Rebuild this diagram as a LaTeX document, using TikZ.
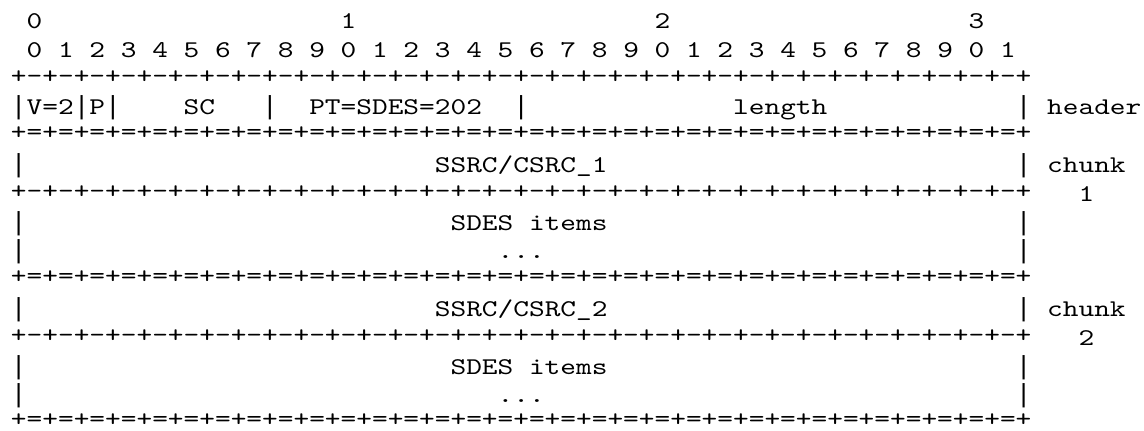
\documentclass[tikz,border=0pt]{standalone}
\usepackage{fontspec}
\newfontfamily\asciifont{lmmono10-regular}[Extension=.otf,FakeStretch=1.246]
\newfontfamily\barfont{Liberation Mono}
\newcommand{\minusrule}{+-+-+-+-+-+-+-+-+-+-+-+-+-+-+-+-+-+-+-+-+-+-+-+-+-+-+-+-+-+-+-+-+}
\newcommand{\equalrule}{+=+=+=+=+=+=+=+=+=+=+=+=+=+=+=+=+=+=+=+=+=+=+=+=+=+=+=+=+=+=+=+=+}
\tikzset{cell/.style={anchor=base west,inner sep=0pt,outer sep=0pt,
    font=\asciifont\fontsize{24pt}{28.8pt}\selectfont},
  barcell/.style={cell,font=\barfont\fontsize{26.16pt}{28.8pt}\selectfont}}

\begin{document}
\begin{tikzpicture}[x=15.7pt,y=-28.8pt]
  \useasboundingbox (-0.70,-0.99) rectangle (72.17,13.976);
  % bit numbering
  \node[cell] (tens0) at (1,0) {0};
  \node[cell] (tens1) at (21,0) {1};
  \node[cell] (tens2) at (41,0) {2};
  \node[cell] (tens3) at (61,0) {3};
  \foreach \b in {0,...,31}{
    \pgfmathtruncatemacro\d{mod(\b,10)}
    \node[cell] (bit\b) at (2*\b+1,1) {\d};
  }
  % separator lines
  \foreach \r/\nm in {2/top,6/one,11/two}
    \node[cell] (rule\nm) at (0,\r-0.09) {\minusrule};
  \foreach \r/\nm in {4/hdr,9/cka,13.95/ckb}
    \node[cell] (eq\nm) at (0,\r-0.14) {\equalrule};
  % header word
  \foreach \c in {0,4,6,16,32,64}
    \node[barcell] (hbar\c) at (\c,3) {|};
  \node[cell] (ver) at (1,3) {V=2};
  \node[cell] (pad) at (5,3) {P};
  \node[cell] (sc) at (11,3) {SC};
  \node[cell] (pt) at (19,3) {PT=SDES=202};
  \node[cell] (len) at (46,3) {length};
  \node[cell] (hdrlbl) at (66,3) {header};
  % side bars of the chunks
  \foreach \r in {5,7,8,10,12,13}{
    \node[barcell] (lbar\r) at (0,\r) {|};
    \node[barcell] (rbar\r) at (64,\r) {|};
  }
  % chunk 1
  \node[cell] (ssrca) at (27,5) {SSRC/CSRC\_1};
  \node[cell] (chunka) at (66,5) {chunk};
  \node[cell] (numa) at (68,6) {1};
  \node[cell] (itemsa) at (28,7) {SDES items};
  \node[cell] (dotsa) at (31,8) {...};
  % chunk 2
  \node[cell] (ssrcb) at (27,10) {SSRC/CSRC\_2};
  \node[cell] (chunkb) at (66,10) {chunk};
  \node[cell] (numb) at (68,11) {2};
  \node[cell] (itemsb) at (28,12) {SDES items};
  \node[cell] (dotsb) at (31,13) {...};
\end{tikzpicture}
\end{document}
